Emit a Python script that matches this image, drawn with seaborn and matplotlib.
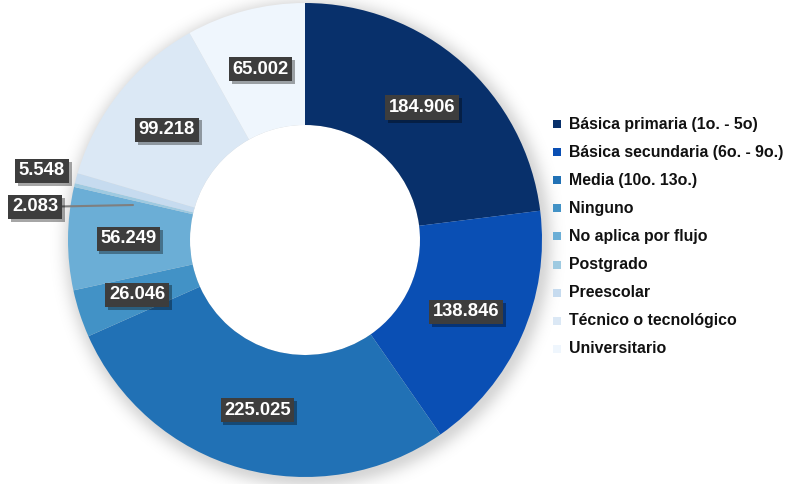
import matplotlib
matplotlib.use("Agg")
import matplotlib.pyplot as plt
import matplotlib.patheffects as pe
from matplotlib.patches import Circle, Rectangle
import numpy as np
import seaborn as sns

categories = [
    "Básica primaria (1o. - 5o)",
    "Básica secundaria (6o. - 9o.)",
    "Media (10o. 13o.)",
    "Ninguno",
    "No aplica por flujo",
    "Postgrado",
    "Preescolar",
    "Técnico o tecnológico",
    "Universitario",
]
values = [184906, 138846, 225025, 26046, 56249, 2083, 5548, 99218, 65002]
value_labels = ["184.906", "138.846", "225.025", "26.046", "56.249",
                "2.083", "5.548", "99.218", "65.002"]
colors = ["#08306b", "#0a4fb4", "#2171b5", "#4292c6", "#6baed6",
          "#9ecae1", "#c6dbef", "#dbe8f5", "#eff6fd"]

sns.set_theme(style="white")
plt.rcParams["font.family"] = ["Liberation Sans", "DejaVu Sans"]
palette = sns.color_palette(colors)

W, H = 785, 484
fig = plt.figure(figsize=(W / 100, H / 100), dpi=100)
ax = fig.add_axes([0, 0, 1, 1])
R = 237.0
cx, cy = 305.0, 240.0
xlim = (-cx / R, (W - cx) / R)
ylim = (-(H - cy) / R, cy / R)

# soft blurred shadow behind the ring
gx = np.linspace(xlim[0], xlim[1], W)
gy = np.linspace(ylim[1], ylim[0], H)
X, Y = np.meshgrid(gx, gy)
dist = np.hypot(X - 0.012, Y + 0.015) - 0.985
a = np.where(dist < 0, 0.16, 0.16 * np.exp(-(dist / 0.055) ** 2))
shade = np.zeros((H, W, 4))
shade[..., 3] = a
ax.imshow(shade, extent=(xlim[0], xlim[1], ylim[0], ylim[1]), zorder=0,
          interpolation="bilinear")

inner = 115.0 / R
wedges, _ = ax.pie(values, colors=palette, startangle=90, counterclock=False,
                   radius=1.0, wedgeprops=dict(width=1.0 - inner, linewidth=0),
                   center=(0, 0), frame=False)
for w in wedges:
    w.set_zorder(2)
ax.add_patch(Circle((0, 0), inner, facecolor="white", edgecolor="none", zorder=1.5))
ax.set_xlim(*xlim)
ax.set_ylim(*ylim)
ax.set_aspect("equal")
ax.axis("off")

total = float(sum(values))
box = dict(boxstyle="square,pad=0.2", facecolor="#3d3d3d", edgecolor="none")
shadow = [pe.withSimplePatchShadow(offset=(2, -2), shadow_rgbFace="black", alpha=0.35)]

cum = 0.0
mid_r = 0.745
for i, (v, lab) in enumerate(zip(values, value_labels)):
    mid = cum + v / 2.0
    cum += v
    ang = np.deg2rad(90.0 - 360.0 * mid / total)
    x, y = mid_r * np.cos(ang), mid_r * np.sin(ang)
    kw = dict(ha="center", va="center", color="white", fontsize=13.2,
              fontweight="bold", bbox=box, zorder=5)
    if categories[i] == "Postgrado":
        t = ax.annotate(lab, xy=((133 - cx) / R, (cy - 205) / R),
                        xytext=((35 - cx) / R, (cy - 207) / R),
                        arrowprops=dict(arrowstyle="-", color="#7f7f7f", lw=1.5,
                                        shrinkA=0, shrinkB=0), **kw)
    elif categories[i] == "Preescolar":
        t = ax.text((42 - cx) / R, (cy - 171) / R, lab, **kw)
    else:
        t = ax.text(x, y, lab, **kw)
    t.get_bbox_patch().set_path_effects(shadow)

# legend
lx, ly0, dy = 557, 124, 28.1
for i, (cat, c) in enumerate(zip(categories, palette)):
    py = ly0 + i * dy
    fig.patches.append(Rectangle(((lx - 4) / W, 1 - (py + 4) / H), 8 / W, 8 / H,
                                 transform=fig.transFigure, facecolor=c,
                                 edgecolor="none"))
    fig.text((lx + 12) / W, 1 - py / H, cat, ha="left", va="center",
             fontsize=11.4, fontweight="bold", color="#111111")

fig.savefig("out.png", dpi=100, facecolor="white")
